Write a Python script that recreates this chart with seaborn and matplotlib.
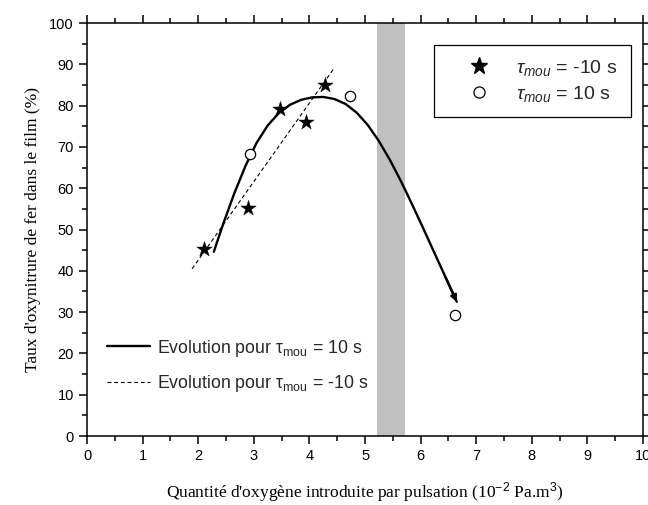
import numpy as np
import pandas as pd
import matplotlib
matplotlib.use("Agg")
import matplotlib.pyplot as plt
from matplotlib.lines import Line2D
from matplotlib.ticker import MultipleLocator
import seaborn as sns

# ---- data ----
stars_x = [2.10, 2.89, 3.47, 3.94, 4.28]
stars_y = [45.3, 55.3, 79.1, 76.1, 85.0]
circles_x = [2.94, 4.73, 6.62]
circles_y = [68.3, 82.3, 29.3]

curve_x = [2.28, 2.45, 2.65, 2.85, 3.05, 3.25, 3.45, 3.65, 3.85, 4.05, 4.25, 4.45,
           4.65, 4.85, 5.05, 5.25, 5.45, 5.65, 5.85, 6.05, 6.25, 6.45, 6.65]
curve_y = [44.6, 51.4, 58.8, 65.4, 71.0, 75.2, 78.2, 80.2, 81.4, 82.0, 82.1, 81.6,
           80.4, 78.3, 75.3, 71.4, 66.8, 61.6, 56.0, 50.2, 44.3, 38.4, 32.5]

dash_x = [1.89, 4.43]
dash_y = [40.5, 88.8]

band = [5.22, 5.72]

xlabel = "Quantité d'oxygène introduite par pulsation (10$^{-2}$ Pa.m$^{3}$)"
ylabel = "Taux d'oxynitrure de fer dans le film (%)"

sns.set_theme(style="ticks")
plt.rcParams['font.family'] = ['Liberation Sans', 'DejaVu Sans']
plt.rcParams['mathtext.fontset'] = 'custom'
plt.rcParams['mathtext.rm'] = 'Liberation Sans'
plt.rcParams['mathtext.it'] = 'Liberation Sans:italic'

fig = plt.figure(figsize=(6.48, 5.05), dpi=100)
ax = fig.add_axes([0.1343, 0.1366, 0.858, 0.8178])

ax.axvspan(band[0], band[1], color='#c0c0c0', lw=0, zorder=0)

curve_df = pd.DataFrame({'x': curve_x, 'y': curve_y})
sns.lineplot(data=curve_df, x='x', y='y', color='black', lw=1.7, ax=ax,
             sort=False, estimator=None, zorder=3)
ax.lines[-1].set_solid_joinstyle('round')
ax.annotate('', xy=(curve_x[-1], curve_y[-1]), xytext=(curve_x[-2], curve_y[-2]),
            arrowprops=dict(arrowstyle='-|>', color='black', lw=1.7,
                            mutation_scale=9, shrinkA=0, shrinkB=0), zorder=3)

dash_df = pd.DataFrame({'x': dash_x, 'y': dash_y})
sns.lineplot(data=dash_df, x='x', y='y', color='black', lw=0.8, ax=ax,
             dashes=False, linestyle=(0, (3.5, 2.5)), estimator=None, zorder=3)

sns.scatterplot(x=stars_x, y=stars_y, marker='*', s=135, color='black',
                edgecolor='black', linewidth=0.3, ax=ax, zorder=4)
sns.scatterplot(x=circles_x, y=circles_y, marker='o', s=55, facecolor='white',
                edgecolor='black', linewidth=0.9, ax=ax, zorder=4)

ax.set_xlim(0, 10)
ax.set_ylim(0, 100)
ax.xaxis.set_major_locator(MultipleLocator(1))
ax.xaxis.set_minor_locator(MultipleLocator(0.5))
ax.yaxis.set_major_locator(MultipleLocator(10))
ax.yaxis.set_minor_locator(MultipleLocator(5))
ax.tick_params(which='both', direction='out', top=True, right=True,
               labeltop=False, labelright=False, width=1.1, color='black',
               labelsize=10.5, labelcolor='black')
ax.tick_params(which='major', length=6)
ax.tick_params(which='minor', length=3.8)
for sp in ax.spines.values():
    sp.set_visible(True)
    sp.set_linewidth(1.1)
    sp.set_color('black')

ax.set_xlabel(xlabel, family=['Liberation Serif'], fontsize=12.5, labelpad=12,
              color='black')
ax.set_ylabel(ylabel, family=['Liberation Serif'], fontsize=12.5, labelpad=6,
              color='black')

h1 = [Line2D([], [], marker='*', ls='', color='black', markersize=12.5),
      Line2D([], [], marker='o', ls='', markerfacecolor='white',
             markeredgecolor='black', markersize=8, markeredgewidth=0.9)]
leg1 = ax.legend(h1, [r"$\mathit{\tau}_{mou}$ = -10 s ", r"$\mathit{\tau}_{mou}$ = 10 s "],
                 loc='upper right', bbox_to_anchor=(0.978, 0.947), fontsize=14,
                 frameon=True, fancybox=False, edgecolor='black', framealpha=1,
                 borderpad=0.65, handletextpad=0.2, labelspacing=0.33,
                 handlelength=3.4, borderaxespad=0)
leg1.get_frame().set_linewidth(0.9)
ax.add_artist(leg1)

h2 = [Line2D([], [], color='black', lw=1.7),
      Line2D([], [], color='black', lw=0.8, linestyle=(0, (3.5, 2.5)))]
ax.legend(h2, [r"Evolution pour τ$_{\mathrm{mou}}$ = 10 s",
               r"Evolution pour τ$_{\mathrm{mou}}$ = -10 s"],
          loc='lower left', bbox_to_anchor=(0.023, 0.085), fontsize=12.8,
          frameon=False, handlelength=2.45, handletextpad=0.35,
          labelspacing=0.8, borderaxespad=0)

fig.savefig('out.png', dpi=100)
